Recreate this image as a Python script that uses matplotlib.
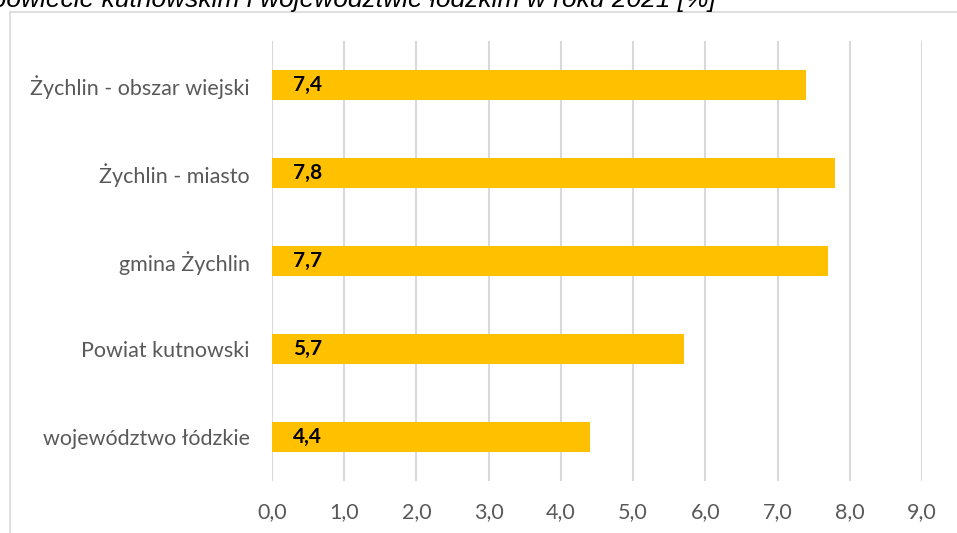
import matplotlib
matplotlib.use("Agg")
from matplotlib import pyplot as plt
from matplotlib.patches import Rectangle

categories = ["województwo łódzkie", "Powiat kutnowski", "gmina Żychlin",
              "Żychlin - miasto", "Żychlin - obszar wiejski"]
values = [4.4, 5.7, 7.7, 7.8, 7.4]
value_labels = ["4,4", "5,7", "7,7", "7,8", "7,4"]
ticks = [0, 1, 2, 3, 4, 5, 6, 7, 8, 9]
tick_labels = ["0,0", "1,0", "2,0", "3,0", "4,0", "5,0", "6,0", "7,0", "8,0", "9,0"]
title = "w gminie Żychlin, powiecie kutnowskim i województwie łódzkim w roku 2021 [%]"

W, H = 957, 533
fig = plt.figure(figsize=(W / 100, H / 100), dpi=100)

# chart frame (partly outside the picture)
fig.patches.append(Rectangle((10 / W, -0.1), 1.1, (H - 12) / H + 0.1,
                             transform=fig.transFigure, fill=False,
                             edgecolor="#d9d9d9", linewidth=1.2))

# cut off title above the frame
fig.text(716 / W, 1 - 7 / H, title, ha="right", va="baseline",
         fontsize=19, style="italic", family="Liberation Sans", color="black")

ax = fig.add_axes([272 / W, 1 - 481 / H, (922 - 272) / W, (481 - 41) / H])
y = range(len(categories))
ax.barh(y, values, height=0.34, color="#ffc000", zorder=3)
for i, lab in enumerate(value_labels):
    ax.annotate(lab, (0, i), xytext=(15, 0), textcoords="offset points",
                ha="left", va="center", fontsize=15, fontweight="bold",
                family="Lato", color="black", zorder=4)

ax.set_xlim(0, 9)
ax.set_ylim(-0.5, len(categories) - 0.5)
ax.set_xticks(ticks)
ax.set_xticklabels(tick_labels)
ax.set_yticks(list(y))
ax.set_yticklabels(categories)
ax.grid(axis="x", color="#d9d9d9", linewidth=1.5, zorder=0)
for s in ax.spines.values():
    s.set_visible(False)
ax.tick_params(length=0, labelsize=15.5, labelcolor="#595959")
ax.tick_params(axis="y", pad=16)
ax.tick_params(axis="x", pad=15)
for t in ax.get_xticklabels() + ax.get_yticklabels():
    t.set_family("Lato")

fig.savefig("out.png", dpi=100)
